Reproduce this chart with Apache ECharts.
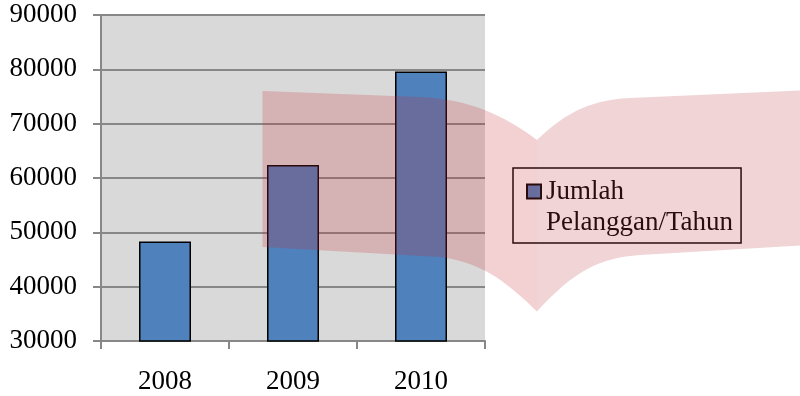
<!DOCTYPE html>
<html>
<head>
<meta charset="utf-8">
<script src="https://cdn.jsdelivr.net/npm/echarts@6/dist/echarts.min.js"></script>
<style>
  html, body { margin: 0; padding: 0; background: #ffffff; }
  #chart { width: 800px; height: 396px; }
</style>
</head>
<body>
<div id="chart"></div>
<script>
// Customers per year
var years = ['2008', '2009', '2010'];
var customers = [48300, 62400, 79600];
var seriesName = 'Jumlah\nPelanggan/Tahun';
var yTicks = { min: 30000, max: 90000, step: 10000 };

var serif = '"Liberation Serif", "Times New Roman", serif';
var gridGray = '#878787';

// Decorative translucent ribbon drawn over the chart (two panels)
echarts.graphic.registerShape('ribbonLeft', echarts.graphic.extendPath(
  'M262.5,91 L420,97 C470,99 505,116 537,140 L537,311.5 C505,280 480,262 440,257 L262.5,247 Z'));
echarts.graphic.registerShape('ribbonRight', echarts.graphic.extendPath(
  'M537,140 C560,118 585,100 630,98 L800,90.5 L800,245.5 L640,255 C600,258 575,270 537,311.5 Z'));

var chart = echarts.init(document.getElementById('chart'), null, { renderer: 'canvas' });

chart.setOption({
  animation: false,
  backgroundColor: '#ffffff',
  grid: {
    left: 101, top: 15, width: 384, height: 326,
    show: true, backgroundColor: '#d9d9d9', borderWidth: 0,
    containLabel: false
  },
  xAxis: {
    type: 'category',
    data: years,
    axisLine: { show: true, lineStyle: { color: gridGray, width: 2 } },
    axisTick: { show: true, length: 8, lineStyle: { color: gridGray, width: 2 } },
    axisLabel: { margin: 27, fontFamily: serif, fontSize: 27, color: '#000000' },
    splitLine: { show: false }
  },
  yAxis: {
    type: 'value',
    min: yTicks.min, max: yTicks.max, interval: yTicks.step,
    axisLine: { show: true, lineStyle: { color: gridGray, width: 2 } },
    axisTick: { show: true, length: 8, lineStyle: { color: gridGray, width: 2 } },
    axisLabel: {
      margin: 24, fontFamily: serif, fontSize: 27, color: '#000000',
      formatter: function (v) { return String(v); }
    },
    splitLine: { show: true, lineStyle: { color: gridGray, width: 2 } }
  },
  legend: {
    show: true,
    orient: 'vertical',
    left: 513, top: 168,
    padding: [-23, 8, 5, 13],
    borderColor: '#000000', borderWidth: 1.5,
    icon: 'rect',
    itemWidth: 14, itemHeight: 14,
    // leading blank line keeps the marker level with the first text line
    formatter: function (name) { return '\n' + name; },
    textStyle: { fontFamily: serif, fontSize: 27, color: '#000000', lineHeight: 31 },
    data: [seriesName]
  },
  series: [{
    name: seriesName,
    type: 'bar',
    data: customers,
    barWidth: 52,
    itemStyle: { color: '#4f81bd', borderColor: '#000000', borderWidth: 1.5 }
  }],
  graphic: [
    {
      type: 'ribbonLeft', z: 100, silent: true,
      style: { fill: 'rgba(200,40,50,0.22)', stroke: null }
    },
    {
      type: 'ribbonRight', z: 100, silent: true,
      style: { fill: 'rgba(185,60,70,0.22)', stroke: null }
    }
  ]
});
</script>
</body>
</html>
